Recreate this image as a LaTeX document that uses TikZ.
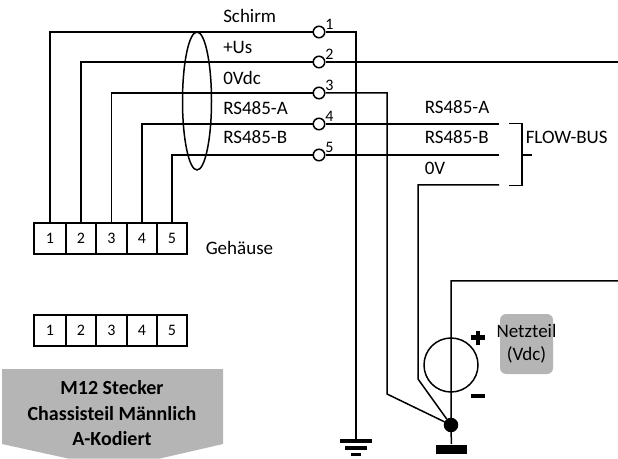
\documentclass[tikz,border=0pt]{standalone}
\usepackage{fontspec}
\setmainfont{Carlito}
\begin{document}
\begin{tikzpicture}[x=1bp,y=-1bp,line width=1.5bp,line join=miter,
  lbl/.style={anchor=west,inner sep=0pt,font=\fontsize{19bp}{21bp}\selectfont},
  pinnum/.style={inner sep=0pt,font=\fontsize{16bp}{18bp}\selectfont},
  cell/.style={draw,inner sep=0pt,minimum height=31bp,font=\fontsize{16bp}{18bp}\selectfont},
  term/.style={draw,circle,inner sep=0pt,minimum size=11.5bp,fill=white},
  gnode/.style={inner sep=0pt}]
\useasboundingbox (0,0) rectangle (618,459);
% grey shapes
\fill[fill=black!29] (2,369) -- (223,369) -- (223,444) -- (160,458.5) -- (68,458.5) -- (2,444) -- cycle;
\node[draw=none,fill=black!29,rounded corners=6bp,minimum width=53bp,minimum height=60bp,inner sep=0pt] (psu) at (526.5,344) {};
\node[gnode,align=center,font=\fontsize{19bp}{23bp}\selectfont] (psutext) at (526.5,344) {Netzteil\\(Vdc)};
\node[gnode,align=center,font=\fontsize{20bp}{25.5bp}\selectfont\bfseries] (title) at (112,413.5) {M12 Stecker\\Chassisteil Männlich\\A-Kodiert};
% connector blocks
\foreach \n/\c/\w in {1/50/32,2/81/30,3/111.5/31,4/142/30,5/172/30}{
  \node[cell,minimum width=\w bp] (a\n) at (\c,238.5) {\n};
  \node[cell,minimum width=\w bp] (b\n) at (\c,330.5) {\n};
}
% terminals
\foreach \n/\y in {1/32,2/62,3/93,4/124,5/155}{
  \node[term] (c\n) at (319,\y) {};
  \draw (a\n.north) |- (c\n.west);
  \node[pinnum] (n\n) at (329.5,\y-8) {\n};
}
% free points
\coordinate (gtop) at (356,32);
\coordinate (gnd) at (356,441);
\coordinate (r2) at (618,62);
\coordinate (j3) at (387,93);
\coordinate (k3) at (387,394);
\coordinate (r4) at (499,124);
\coordinate (r5) at (499,155);
\coordinate (r0) at (499,185);
\coordinate (l0) at (418,185);
\coordinate (k0) at (418,379);
\coordinate (ptop) at (451,281);
\coordinate (pr) at (618,281);
\node[draw,circle,fill=black,inner sep=0pt,minimum size=13bp] (dot) at (451,425) {};
\node[fill=black,inner sep=0pt,minimum width=31bp,minimum height=9.5bp] (block) at (451.5,449.5) {};
\node[draw,circle,inner sep=0pt,minimum size=54bp] (src) at (451,365) {};
% wires
\draw (c1.east) -- (gtop) -- (gnd);
\draw (c2.east) -- (r2);
\draw (c3.east) -- (j3) -- (k3) -- (dot);
\draw (c4.east) -- (r4);
\draw (c5.east) -- (r5);
\draw (r0) -- (l0) -- (k0) -- (dot);
\draw (pr) -- (ptop) -- (dot.center) -- (block);
% ground bars
\draw[line width=3.5bp] (340,441) -- (372,441) (345,448) -- (367,448) (351,454.5) -- (361,454.5);
% shield ellipse
\draw (197,101) ellipse [x radius=14.5,y radius=69];
% plus and minus
\draw[line width=4.5bp] (471,337.5) -- (485,337.5) (478,330.5) -- (478,344.5);
\draw[line width=4.5bp] (471,396) -- (485,396);
% bracket
\draw (509,123.5) -- (522,123.5) -- (522,185.5) -- (509,185.5);
\draw (522,155) -- (531.5,155);
% labels
\node[lbl] (t1) at (222.5,16) {Schirm};
\node[lbl] (t2) at (222.5,47) {+Us};
\node[lbl] (t3) at (222.5,78) {0Vdc};
\node[lbl] (t4) at (222.5,108) {RS485-A};
\node[lbl] (t5) at (222.5,137) {RS485-B};
\node[lbl] (t6) at (424,107) {RS485-A};
\node[lbl] (t7) at (424,137) {RS485-B};
\node[lbl] (t8) at (424,168) {0V};
\node[lbl] (fb) at (525,137) {FLOW-BUS};
\node[lbl] (geh) at (205,248) {Gehäuse};
\end{tikzpicture}
\end{document}
